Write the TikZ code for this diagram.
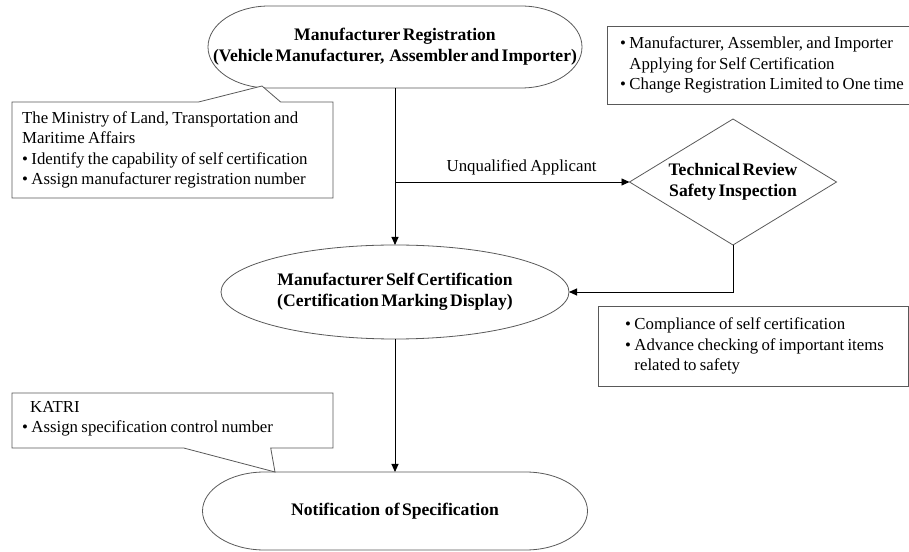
\documentclass[tikz,border=0pt]{standalone}
\usepackage{fontspec}
\setmainfont{Liberation Serif}[WordSpace=0.8]
\newfontfamily\titlefam{Liberation Serif}[WordSpace=0.55]
\usetikzlibrary{calc,arrows.meta,shapes.geometric,shapes.callouts,positioning}
\definecolor{ink}{HTML}{000000}
\definecolor{frame}{HTML}{595959}
\newcommand{\bodyfnt}{\fontsize{16.8}{20.3}\selectfont}
\newcommand{\titlefnt}{\titlefam\fontsize{17.6}{21}\selectfont\bfseries}
\tikzset{
  term/.style={rectangle, draw=none, inner sep=0pt, outer sep=0pt, align=center, font=\titlefnt},
  outl/.style={draw=frame, line width=0.8pt},
  oval/.style={ellipse, draw=frame, line width=0.8pt, inner sep=0pt, outer sep=0pt, align=center, font=\titlefnt},
  note/.style={rectangle, draw=frame, fill=white, line width=0.8pt, inner sep=0pt, outer sep=0pt},
  callbox/.style={rectangle callout, draw=frame, fill=white, line width=0.8pt, inner sep=0pt, outer sep=0pt},
  txt/.style={anchor=west, inner sep=0pt, align=left, font=\bodyfnt},
  arr/.style={draw=ink, line width=0.9pt, -{Triangle[length=8pt,width=7pt]}},
  lab/.style={font=\bodyfnt, inner sep=0pt},
}

\begin{document}
\begin{tikzpicture}[x=1pt,y=1pt]
  \useasboundingbox (0,0) rectangle (909,551);
  \clip (0,0) rectangle (909,551);
  % main column
  \node[term, minimum width=374pt, minimum height=82pt] (reg) at (395,504)
    {Manufacturer Registration\\(Vehicle Manufacturer,~ Assembler and Importer)};
  \draw[outl] ([xshift=61pt]reg.north west) -- ([xshift=-61pt]reg.north east)
    arc[start angle=90, end angle=-90, x radius=61pt, y radius=41pt]
    -- ([xshift=61pt]reg.south west)
    arc[start angle=270, end angle=90, x radius=61pt, y radius=41pt] -- cycle;
  \node[oval, minimum width=348pt, minimum height=94pt] (cert) at (395,259)
    {Manufacturer Self Certification\\(Certification Marking Display)};
  \node[term, minimum width=385pt, minimum height=78pt] (notif) at (395,40)
    {Notification~ of Specification};
  \draw[outl] ([xshift=62pt]notif.north west) -- ([xshift=-62pt]notif.north east)
    arc[start angle=90, end angle=-90, x radius=62pt, y radius=39pt]
    -- ([xshift=62pt]notif.south west)
    arc[start angle=270, end angle=90, x radius=62pt, y radius=39pt] -- cycle;
  \node[term, minimum width=207pt, minimum height=126pt] (review) at (733,369)
    {Technical Review\\Safety Inspection};
  \draw[outl] (review.north) -- (review.east) -- (review.south) -- (review.west) -- cycle;

  % notes
  \coordinate (regtip) at (262,465);
  \node[callbox, minimum width=321pt, minimum height=96pt,
    callout absolute pointer={(regtip)}, callout pointer width=82pt] (moltm) at (172.5,401) {};
  \node[txt] (moltmtxt) at ([xshift=10pt]moltm.west)
    {The Ministry of Land, Transportation and\\Maritime Affairs\\
     \textbullet\ Identify the capability of self certification\\
     \textbullet\ Assign manufacturer registration number};
  \coordinate (katritip) at (275,79);
  \node[callbox, minimum width=321pt, minimum height=55pt,
    callout absolute pointer={(katritip)}, callout pointer width=87pt] (katri) at (172.5,130.5) {};
  \node[txt] (katritxt) at ([xshift=10pt,yshift=2pt]katri.west)
    {\hspace*{8pt}KATRI\\\textbullet\ Assign specification control number};
  \node[note, minimum width=303pt, minimum height=78pt] (apply) at (758.5,486) {};
  \node[txt] (applytxt) at ([xshift=13pt]apply.west)
    {\textbullet\ Manufacturer, Assembler, and Importer\\
     \phantom{\textbullet\ }Applying for Self Certification\\
     \textbullet\ Change Registration Limited to One time};
  \node[note, minimum width=310pt, minimum height=80pt] (comply) at (753,205) {};
  \node[txt] (complytxt) at ([xshift=27pt]comply.west)
    {\textbullet\ Compliance of self certification\\
     \textbullet\ Advance checking of important items\\
     \phantom{\textbullet\ }related to safety};

  % connectors
  \coordinate (split) at (reg.south |- review.west);
  \draw[arr] (reg.south) -- (cert.north);
  \draw[arr] (split) -- node[lab, above=6pt, pos=0.54] (unq) {Unqualified Applicant} (review.west);
  \draw[arr] (review.south) |- (cert.east);
  \draw[arr] (cert.south) -- (notif.north);
\end{tikzpicture}
\end{document}
